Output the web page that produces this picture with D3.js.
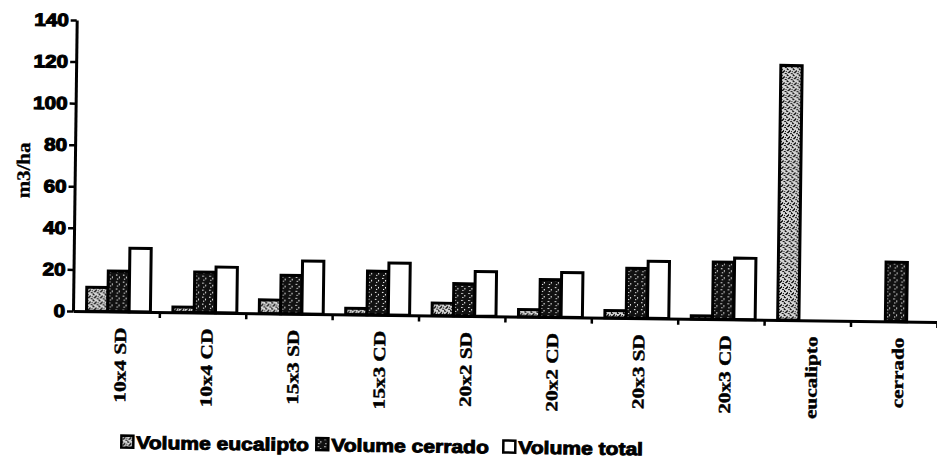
<!DOCTYPE html>
<html>
<head>
<meta charset="utf-8">
<script src="https://cdn.jsdelivr.net/npm/d3@7"></script>
<style>
  body { margin: 0; background: #fff; }
  svg { display: block; }
</style>
</head>
<body>
<div id="chart"></div>
<script>
// 1: DATA
const categories = ["10x4 SD", "10x4 CD", "15x3 SD", "15x3 CD", "20x2 SD",
                    "20x2 CD", "20x3 SD", "20x3 CD", "eucalipto", "cerrado"];
const seriesNames = ["Volume eucalipto", "Volume cerrado", "Volume total"];
const volEucalipto = [11.5, 2.5, 6.5, 3, 6, 3.5, 3.5, 1.5, 122.5, null];
const volCerrado   = [19.5, 19.5, 18.5, 21, 15.5, 18, 24, 27.5, null, 28.5];
const volTotal     = [30.5, 22, 25.5, 25, 21.5, 21.5, 27.5, 29.5, null, null];
const yTicks = [0, 20, 40, 60, 80, 100, 120, 140];

// 2: SVG + GLOBAL LAYOUT
const W = 937, H = 460;
const plot = { left: 73, right: 937, top: 20, bottom: 311 };

const svg = d3.select("#chart").append("svg")
    .attr("width", W)
    .attr("height", H);

// fill patterns (scanned hatch look)
const defs = svg.append("defs");
const pEuc = defs.append("pattern")
    .attr("id", "pEuc").attr("patternUnits", "userSpaceOnUse")
    .attr("width", 6).attr("height", 6);
pEuc.append("rect").attr("width", 6).attr("height", 6).attr("fill", "#d4d4d4");
[[0, 0, 2, 1], [3, 1, 1, 2], [1, 3, 2, 1], [4, 4, 2, 1], [0, 5, 1, 1], [5, 2, 1, 1], [2, 2, 1, 1]]
    .forEach(r => pEuc.append("rect").attr("x", r[0]).attr("y", r[1])
        .attr("width", r[2]).attr("height", r[3]).attr("fill", "#111"));

const pCer = defs.append("pattern")
    .attr("id", "pCer").attr("patternUnits", "userSpaceOnUse")
    .attr("width", 7).attr("height", 7);
pCer.append("rect").attr("width", 7).attr("height", 7).attr("fill", "#111");
[[1, 1, 1.5, 1], [4, 3, 1, 1.5], [2, 5, 1.2, 1]]
    .forEach(r => pCer.append("rect").attr("x", r[0]).attr("y", r[1])
        .attr("width", r[2]).attr("height", r[3]).attr("fill", "#fff"));

const fills = { "Volume eucalipto": "url(#pEuc)", "Volume cerrado": "url(#pCer)", "Volume total": "#fff" };

// the scan is slightly tilted, so the whole chart is too
const g = svg.append("g")
    .attr("transform", `rotate(0.73, ${plot.left}, ${plot.bottom})`);

// 3: SCALES
const x0 = d3.scaleBand()
    .domain(categories)
    .range([plot.left, plot.right])
    .paddingInner(0.26)
    .paddingOuter(0.13)
    .align(0.6);

const x1 = d3.scaleBand()
    .domain(seriesNames)
    .range([0, x0.bandwidth()]);

const xIdx = d3.scaleLinear()
    .domain([0, categories.length])
    .range([plot.left, plot.right]);

const y = d3.scaleLinear()
    .domain([0, 140])
    .range([plot.bottom, plot.top]);

// 4: BARS
const rows = categories.map((c, i) => ({
    cat: c,
    values: [
        { key: seriesNames[0], v: volEucalipto[i] },
        { key: seriesNames[1], v: volCerrado[i] },
        { key: seriesNames[2], v: volTotal[i] }
    ].filter(d => d.v !== null)
}));

g.selectAll("g.cat")
    .data(rows)
    .join("g")
    .attr("class", "cat")
    .attr("transform", d => `translate(${x0(d.cat)},0)`)
    .selectAll("rect")
    .data(d => d.values)
    .join("rect")
    .attr("x", d => x1(d.key))
    .attr("width", x1.bandwidth())
    .attr("y", d => y(d.v))
    .attr("height", d => y(0) - y(d.v))
    .attr("fill", d => fills[d.key])
    .attr("stroke", "#000")
    .attr("stroke-width", 3);

// 5: AXES
const yAxis = g.append("g")
    .attr("transform", `translate(${plot.left},0)`)
    .call(d3.axisLeft(y).tickValues(yTicks).tickSize(6).tickSizeOuter(0).tickPadding(8));
yAxis.select(".domain").attr("stroke-width", 3);
yAxis.selectAll(".tick line").attr("stroke-width", 2.5);
yAxis.selectAll(".tick text")
    .attr("x", -8 / 1.15)
    .attr("transform", "scale(1.15,1)")
    .style("font-family", "'Liberation Sans', Arial, sans-serif")
    .style("font-weight", "bold")
    .style("font-size", "18px")
    .attr("fill", "#000")
    .attr("stroke", "#000")
    .attr("stroke-width", 1.1);

const xAxis = g.append("g")
    .attr("transform", `translate(0,${plot.bottom})`)
    .call(d3.axisBottom(xIdx).tickValues(d3.range(1, categories.length + 1))
        .tickSize(6).tickSizeOuter(0).tickFormat(""));
xAxis.select(".domain").attr("stroke-width", 3);
xAxis.selectAll(".tick line").attr("stroke-width", 2.5);

// category labels (rotated)
g.selectAll("text.cat-label")
    .data(categories)
    .join("text")
    .attr("class", "cat-label")
    .attr("text-anchor", "end")
    .attr("transform", d => `translate(${x0(d) + x0.bandwidth() / 2 + 2},327) rotate(-90) scale(1.25,1)`)
    .attr("dy", "0.35em")
    .style("font-family", "'Liberation Serif', 'Times New Roman', serif")
    .style("font-weight", "bold")
    .style("font-size", "17px")
    .attr("stroke", "#000")
    .attr("stroke-width", 0.4)
    .text(d => d);

// 6: AXIS TITLE
g.append("text")
    .attr("text-anchor", "middle")
    .attr("transform", "translate(28,171) rotate(-90) scale(1.1,1)")
    .style("font-family", "'Liberation Serif', 'Times New Roman', serif")
    .style("font-weight", "bold")
    .style("font-size", "19px")
    .attr("stroke", "#000")
    .attr("stroke-width", 0.3)
    .text("m3/ha");

// 7: LEGEND
const legendX = [123, 318, 505];
const legend = g.selectAll("g.legend")
    .data(seriesNames)
    .join("g")
    .attr("class", "legend")
    .attr("transform", (d, i) => `translate(${legendX[i]},435)`);

legend.append("rect")
    .attr("width", 12).attr("height", 12)
    .attr("fill", d => fills[d])
    .attr("stroke", "#000")
    .attr("stroke-width", 2.5);

legend.append("text")
    .attr("transform", "translate(15,13) scale(1.17,1)")
    .style("font-family", "'Liberation Sans', Arial, sans-serif")
    .style("font-weight", "bold")
    .style("font-size", "18px")
    .attr("stroke", "#000")
    .attr("stroke-width", 0.9)
    .text(d => d);
</script>
</body>
</html>
